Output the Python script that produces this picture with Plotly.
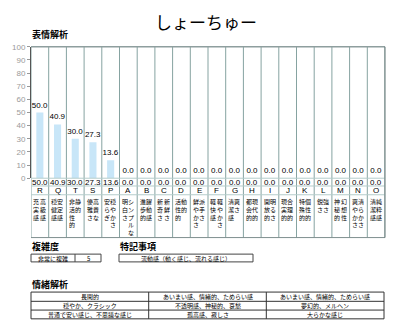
import plotly.graph_objects as go

# ---------------- data ----------------
title = "しょーちゅー"
categories = ["R", "Q", "T", "S", "P", "A", "B", "C", "D", "E",
              "F", "G", "H", "I", "J", "K", "L", "M", "N", "O"]
values = [50.0, 40.9, 30.0, 27.3, 13.6, 0, 0, 0, 0, 0,
          0, 0, 0, 0, 0, 0, 0, 0, 0, 0]
# descriptions: (left column, right column) of vertical text
desc_left = ["充実感", "穏健感", "非活性的", "優雅さ", "安らぎ", "明白さ", "進歩的", "新奇さ", "活性的", "鮮やかさ",
             "軽快感", "清潔感", "都会的", "開放的", "現実的", "特殊的", "鋭さ", "神秘的", "爽やかさ", "清潔感"]
desc_right = ["高級感", "安定感", "静的", "高貴な", "穏やかさ", "シンプルな", "躍動感", "新鮮さ", "動的", "派手さ",
              "軽やかさ", "爽さ", "現代的", "明るさ", "合理的", "個性的", "強さ", "幻想性", "清らかさ", "純粋感"]
yticks = list(range(0, 101, 10))

section1 = "表情解析"
section2 = "複雑度"
section3 = "特記事項"
section4 = "情緒解析"
complexity_label = "非常に複雑"
complexity_value = "5"
notes = "流動感（動く感じ、流れる感じ）"
emotion_rows = [
    ["長閑的", "あいまい感、情緒的、ためらい感", "あいまい感、情緒的、ためらい感"],
    ["穏やか、クラシック", "不透明感、神秘的、哀愁", "夢幻的、メルヘン"],
    ["普通で安い感じ、不思議な感じ", "孤高感、寂しさ", "大らかな感じ"],
]

# ---------------- layout helpers ----------------
W, H = 400, 336
FONT = "Noto Sans CJK JP"
def px(x):
    return x / W
def py(y):
    return 1 - y / H

X0, X1 = 31, 385
Y100, Y0 = 44, 179
TBL_BOTTOM = 240
n = len(categories)
grid_col = "#86a3a1"
light_col = "#b4cccb"

annotations = []
def note(text, x, y, size=6, xref="paper", xanchor="center", yanchor="middle", family=FONT, pad=1):
    annotations.append(dict(text=text, x=x, y=py(y), xref=xref, yref="paper",
                            xanchor=xanchor, yanchor=yanchor, showarrow=False, borderpad=pad,
                            font=dict(size=size, color="#000", family=family)))

fig = go.Figure()
fig.add_trace(go.Bar(
    x=list(range(n)), y=values, width=0.4,
    marker=dict(color="#c8e6f8", line=dict(width=0)),
    text=[f"{v:.1f}" for v in values], textposition="outside", constraintext="none",
    textfont=dict(size=8, color="#000", family="Arial"),
    cliponaxis=False, hoverinfo="skip",
))

shapes = []
# vertical grid lines through chart and table
for i in range(n + 1):
    shapes.append(dict(type="line", xref="x", yref="paper", x0=i - 0.5, x1=i - 0.5,
                       y0=py(TBL_BOTTOM), y1=py(Y100), line=dict(color=grid_col, width=1)))
# top frame
shapes.append(dict(type="line", xref="paper", yref="paper", x0=px(X0), x1=px(X1),
                   y0=py(Y100), y1=py(Y100), line=dict(color="#8e9e9e", width=1.5)))
# table horizontal lines
for yy, c in [(Y0, light_col), (187, light_col), (196, light_col), (TBL_BOTTOM, "#7e8e8e")]:
    shapes.append(dict(type="line", xref="paper", yref="paper", x0=px(X0), x1=px(X1),
                       y0=py(yy), y1=py(yy), line=dict(color=c, width=1)))
# right border
shapes.append(dict(type="line", xref="paper", yref="paper", x0=px(X1), x1=px(X1),
                   y0=py(TBL_BOTTOM), y1=py(Y100), line=dict(color="#5f7373", width=1)))

# title and section headers
note(title, px(206), 18, size=17)
note(f"<b>{section1}</b>", px(X0 - 1), 31, size=9, xanchor="left")

# table text
for i in range(n):
    note(f"{values[i]:.1f}", i, 183, size=8, xref="x", family="Arial", pad=0)
    note(categories[i], i, 191.5, size=8, xref="x", family="Arial", pad=0)
    for col_text, off in [(desc_left[i], -0.19), (desc_right[i], 0.16)]:
        note("<br>".join(col_text), i + off, 197.5, size=6, xref="x", yanchor="top", pad=0)

# complexity / notes
note(f"<b>{section2}</b>", px(X0 - 1), 249, size=9, xanchor="left")
note(f"<b>{section3}</b>", px(118), 249, size=9, xanchor="left")
shapes.append(dict(type="rect", xref="paper", yref="paper", x0=px(31), x1=px(101), y0=py(265), y1=py(257),
                   line=dict(color="#444", width=1)))
shapes.append(dict(type="line", xref="paper", yref="paper", x0=px(75), x1=px(75), y0=py(265), y1=py(257),
                   line=dict(color="#444", width=1)))
shapes.append(dict(type="rect", xref="paper", yref="paper", x0=px(119), x1=px(253), y0=py(265), y1=py(257),
                   line=dict(color="#444", width=1)))
note(complexity_label, px(53), 261, pad=0)
note(complexity_value, px(88), 261, pad=0)
note(notes, px(186), 261, pad=0)

# emotion table
note(f"<b>{section4}</b>", px(X0 - 1), 288, size=9, xanchor="left")
col_edges = [31, 148.7, 266.3, 384]
row_edges = [296, 305.5, 314.5, 323.5]
shapes.append(dict(type="rect", xref="paper", yref="paper", x0=px(col_edges[0]), x1=px(col_edges[-1]),
                   y0=py(row_edges[-1]), y1=py(row_edges[0]), line=dict(color="#333", width=1)))
for cx in col_edges[1:-1]:
    shapes.append(dict(type="line", xref="paper", yref="paper", x0=px(cx), x1=px(cx),
                       y0=py(row_edges[-1]), y1=py(row_edges[0]), line=dict(color="#333", width=1)))
for ry in row_edges[1:-1]:
    shapes.append(dict(type="line", xref="paper", yref="paper", x0=px(col_edges[0]), x1=px(col_edges[-1]),
                       y0=py(ry), y1=py(ry), line=dict(color="#333", width=1)))
for r, row in enumerate(emotion_rows):
    for c, txt in enumerate(row):
        note(txt, px((col_edges[c] + col_edges[c + 1]) / 2), (row_edges[r] + row_edges[r + 1]) / 2, pad=0)

fig.update_layout(
    width=W, height=H, margin=dict(l=0, r=0, t=0, b=0),
    paper_bgcolor="white", plot_bgcolor="white", showlegend=False,
    shapes=shapes, annotations=annotations,
    xaxis=dict(domain=[px(X0), px(X1)], range=[-0.5, n - 0.5], showticklabels=False,
               showgrid=False, zeroline=False, showline=False, fixedrange=True),
    yaxis=dict(domain=[py(Y0), py(Y100)], range=[0, 100], tickvals=yticks,
               showgrid=False, zeroline=False, showline=True, linecolor="#555", linewidth=1,
               ticks="outside", ticklen=3, tickcolor="#999",
               tickfont=dict(size=8, color="#9a9a9a", family="Arial"), fixedrange=True),
    bargap=0.6,
)

fig.write_html("out.html")
